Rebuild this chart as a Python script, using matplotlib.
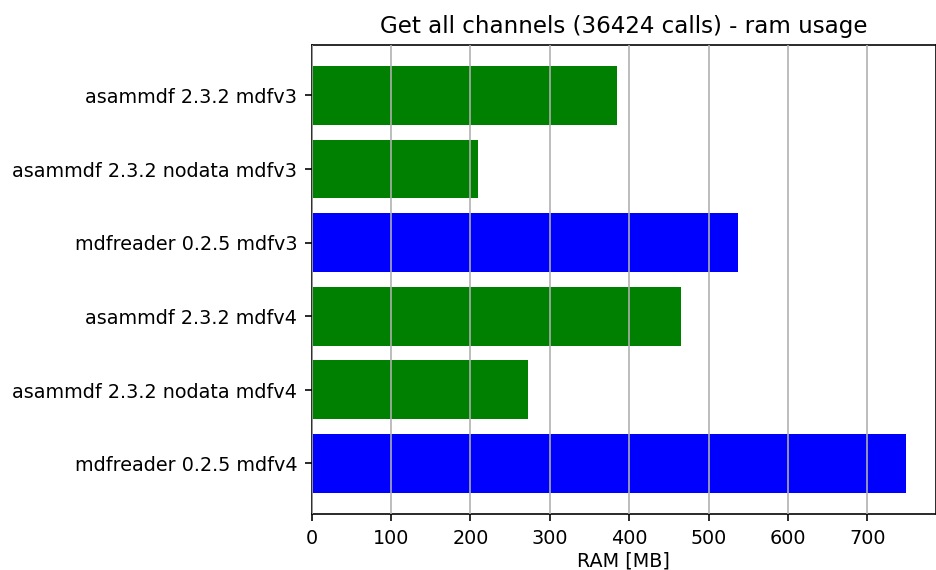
import matplotlib
matplotlib.use("Agg")
import matplotlib.pyplot as plt
import numpy as np

# benchmark results, top to bottom
labels = [
    "asammdf 2.3.2 mdfv3",
    "asammdf 2.3.2 nodata mdfv3",
    "mdfreader 0.2.5 mdfv3",
    "asammdf 2.3.2 mdfv4",
    "asammdf 2.3.2 nodata mdfv4",
    "mdfreader 0.2.5 mdfv4",
]
ram_mb = [384, 210, 537, 465, 273, 749]
colors = ["green", "green", "blue", "green", "green", "blue"]

fig, ax = plt.subplots(figsize=(6.4, 3.9), dpi=146.25)
fig.subplots_adjust(left=0.333, right=1.0, bottom=0.098, top=0.921)

y = np.arange(len(labels))
ax.barh(y, ram_mb, color=colors)
ax.set_yticks(y)
ax.set_yticklabels(labels, fontsize=9.4)
ax.tick_params(axis="x", labelsize=9.4)
ax.invert_yaxis()

ax.set_title("Get all channels (36424 calls) - ram usage", fontsize=11.3)
ax.set_xlabel("RAM [MB]", fontsize=9.4, labelpad=2)
ax.xaxis.grid(True)
ax.set_axisbelow(False)

fig.savefig("out.png", dpi=146.25)
